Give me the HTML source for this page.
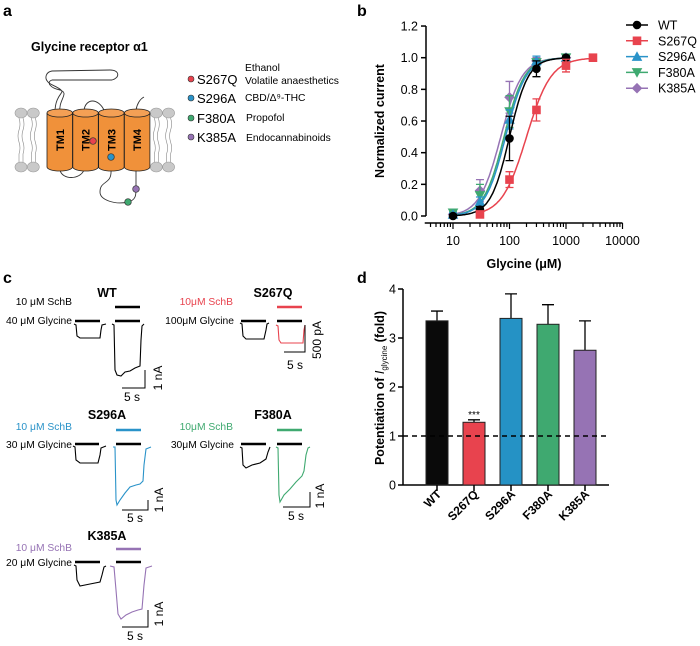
<!DOCTYPE html>
<html><head><meta charset="utf-8">
<style>
html,body{margin:0;padding:0;background:#fff;}
svg{display:block;font-family:"Liberation Sans",Arial,sans-serif;}
.b{font-weight:bold;}
</style></head>
<body>
<svg id="fig" width="700" height="646" viewBox="0 0 700 646" xmlns="http://www.w3.org/2000/svg">
<!-- Panel labels -->
<text x="3" y="16" font-size="16" class="b">a</text>
<text x="357" y="16" font-size="16" class="b">b</text>
<text x="3" y="283" font-size="16" class="b">c</text>
<text x="357" y="283" font-size="16" class="b">d</text>

<!-- Panel a -->
<g>
<text x="31" y="51" font-size="12.5" class="b">Glycine receptor α1</text>
<g id="lipids"></g>
<path d="M55,112 C55,100 60,95 62,92 C62,88 50,85 48,82 C44,78 46,72 52,71 L110,70 C120,70 120,78 112,80 L52,80 C46,82 50,88 60,90 C70,93 58,100 60,112" fill="none" stroke="#333" stroke-width="0.9"/>
<path d="M84,110 C86,98 98,98 104,110" fill="none" stroke="#333" stroke-width="0.9"/>
<path d="M136,110 C137,104 140,99 144,97" fill="none" stroke="#333" stroke-width="0.9"/>
<path d="M60,170 C62,180 80,180 84,170" fill="none" stroke="#333" stroke-width="0.9"/>
<path d="M111,170 C112,185 100,180 100,192 C100,200 115,205 128,202 C136,200 136,195 136,189 L136,170" fill="none" stroke="#333" stroke-width="0.9"/>
<g id="cyl"></g>
<circle cx="93" cy="141" r="3.3" fill="#e8434e" stroke="#333" stroke-width="0.7"/>
<circle cx="111" cy="157" r="3.3" fill="#2a93c9" stroke="#333" stroke-width="0.7"/>
<circle cx="128" cy="202" r="3.3" fill="#3fa970" stroke="#333" stroke-width="0.7"/>
<circle cx="136" cy="189" r="3.3" fill="#9673b4" stroke="#333" stroke-width="0.7"/>
<g>
<circle cx="191" cy="79" r="3" fill="#e8434e" stroke="#333" stroke-width="0.6"/>
<circle cx="191" cy="98" r="3" fill="#2a93c9" stroke="#333" stroke-width="0.6"/>
<circle cx="191" cy="118" r="3" fill="#3fa970" stroke="#333" stroke-width="0.6"/>
<circle cx="191" cy="137" r="3" fill="#9673b4" stroke="#333" stroke-width="0.6"/>
<text x="197" y="84" font-size="13">S267Q</text>
<text x="197" y="103" font-size="13">S296A</text>
<text x="197" y="123" font-size="13">F380A</text>
<text x="197" y="142" font-size="13">K385A</text>
<text x="245" y="71" font-size="10.3">Ethanol</text>
<text x="245" y="84" font-size="10.3">Volatile anaesthetics</text>
<text x="245" y="101" font-size="10.3">CBD/Δ⁹-THC</text>
<text x="246" y="121" font-size="10.3">Propofol</text>
<text x="246" y="141" font-size="10.3">Endocannabinoids</text>
</g>
</g>

<!-- Panel b -->
<g id="panelB"></g>
<!-- Panel d -->
<g id="panelD"></g>

<!-- Panel c -->
<g id="panelC" font-size="10.3">
<text x="107" y="297" font-size="12.5" class="b" text-anchor="middle">WT</text>
<text x="273" y="297" font-size="12.5" class="b" text-anchor="middle">S267Q</text>
<text x="107" y="419" font-size="12.5" class="b" text-anchor="middle">S296A</text>
<text x="273" y="419" font-size="12.5" class="b" text-anchor="middle">F380A</text>
<text x="107" y="540" font-size="12.5" class="b" text-anchor="middle">K385A</text>

<text x="72" y="305" text-anchor="end">10 μM SchB</text>
<text x="72" y="324" text-anchor="end">40 μM Glycine</text>
<text x="233" y="305" text-anchor="end" fill="#e8434e">10μM SchB</text>
<text x="234" y="324" text-anchor="end">100μM Glycine</text>
<text x="72" y="430" text-anchor="end" fill="#2a93c9">10 μM SchB</text>
<text x="72" y="448" text-anchor="end">30 μM Glycine</text>
<text x="233" y="430" text-anchor="end" fill="#3fa970">10μM SchB</text>
<text x="234" y="448" text-anchor="end">30μM Glycine</text>
<text x="72" y="551" text-anchor="end" fill="#9673b4">10 μM SchB</text>
<text x="72" y="566" text-anchor="end">20 μM Glycine</text>

<g stroke-width="2.6">
<line x1="115" y1="307" x2="140" y2="307" stroke="#000"/>
<line x1="75" y1="321" x2="100" y2="321" stroke="#000"/>
<line x1="115" y1="321" x2="140" y2="321" stroke="#000"/>
<line x1="277" y1="307" x2="302" y2="307" stroke="#e8434e"/>
<line x1="241" y1="321" x2="266" y2="321" stroke="#000"/>
<line x1="277" y1="321" x2="302" y2="321" stroke="#000"/>
<line x1="116" y1="430" x2="141" y2="430" stroke="#2a93c9"/>
<line x1="75" y1="444" x2="99" y2="444" stroke="#000"/>
<line x1="116" y1="444" x2="141" y2="444" stroke="#000"/>
<line x1="277" y1="430" x2="302" y2="430" stroke="#3fa970"/>
<line x1="241" y1="444" x2="266" y2="444" stroke="#000"/>
<line x1="277" y1="444" x2="302" y2="444" stroke="#000"/>
<line x1="116" y1="549" x2="141" y2="549" stroke="#9673b4"/>
<line x1="75" y1="562" x2="100" y2="562" stroke="#000"/>
<line x1="116" y1="562" x2="141" y2="562" stroke="#000"/>
</g>
<g fill="none" stroke-width="1.1">
<path d="M74,324 L76,325 L77,336 L80,338 L100,338 L101,330 L102,325 L106,324" stroke="#000"/>
<path d="M112,324 L114,325 L115,370 L117,375 L121,376 L125,372 L130,371 L135,368 L140,366 L141,340 L142,326 L144,324" stroke="#000"/>
<path d="M240,323 L242,324 L243,336 L246,339 L264,339 L266,330 L267,324 L269,323" stroke="#000"/>
<path d="M276,325 L278,326 L279,340 L281,343 L303,343 L304,330 L305,325" stroke="#e8434e"/>
<path d="M73,446 L75,447 L76,460 L80,463 L98,463 L100,455 L101,448 L106,446" stroke="#000"/>
<path d="M113,447 L115,447 L116,500 L117,505 L120,500 L125,493 L130,487 L136,485 L140,484 L143,481 L144,465 L146,449 L151,447" stroke="#2a93c9"/>
<path d="M240,447 L242,448 L243,465 L246,468 L252,465 L260,463 L266,459 L268,452 L270,447" stroke="#000"/>
<path d="M276,447 L278,448 L279,495 L280,502 L284,495 L290,489 L296,482 L302,476 L304,471 L306,455 L308,448 L310,447" stroke="#3fa970"/>
<path d="M74,565 L76,566 L77,580 L80,586 L90,584 L100,582 L102,575 L104,567 L106,566" stroke="#000"/>
<path d="M110,566 L114,567 L116,590 L118,614 L121,619 L126,615 L132,612 L138,610 L142,609 L144,585 L146,568 L152,566" stroke="#9673b4"/>
</g>
<g fill="none" stroke="#000" stroke-width="1">
<path d="M145,370 L145,388 L122,388"/>
<path d="M305,325 L305,352 L284,352"/>
<path d="M148,500 L148,510 L122,510"/>
<path d="M310,492 L310,507 L283,507"/>
<path d="M148,610 L148,627 L122,627"/>
</g>
<text x="132" y="401" font-size="12" text-anchor="middle">5 s</text>
<text x="295" y="369" font-size="12" text-anchor="middle">5 s</text>
<text x="135" y="522" font-size="12" text-anchor="middle">5 s</text>
<text x="296" y="520" font-size="12" text-anchor="middle">5 s</text>
<text x="135" y="640" font-size="12" text-anchor="middle">5 s</text>
<text font-size="12" text-anchor="middle" transform="translate(162,378) rotate(-90)">1 nA</text>
<text font-size="12" text-anchor="middle" transform="translate(321,340) rotate(-90)">500 pA</text>
<text font-size="12" text-anchor="middle" transform="translate(163,500) rotate(-90)">1 nA</text>
<text font-size="12" text-anchor="middle" transform="translate(324,496) rotate(-90)">1 nA</text>
<text font-size="12" text-anchor="middle" transform="translate(163,614) rotate(-90)">1 nA</text>
</g>
</svg>
<script>
const NS="http://www.w3.org/2000/svg";
function mk(tag,attrs,parent){const e=document.createElementNS(NS,tag);for(const k in attrs)e.setAttribute(k,attrs[k]);parent.appendChild(e);return e;}

// ---- Panel b data ----
const bSeriesNames=["WT","S267Q","S296A","F380A","K385A"];
const bColors=["#000000","#e8434e","#2a93c9","#3fa970","#9673b4"];
const concWT=[10,30,100,300,1000];
const valWT=[0.0,0.04,0.49,0.93,1.0];
const errWT=[0.01,0.02,0.14,0.05,0.01];
const concS267Q=[30,100,300,1000,3000];
const valS267Q=[0.01,0.23,0.67,0.95,1.0];
const errS267Q=[0.01,0.05,0.07,0.04,0.01];
const concS296A=[10,30,100,300,1000];
const valS296A=[0.01,0.09,0.61,0.98,1.0];
const errS296A=[0.01,0.03,0.06,0.03,0.01];
const concF380A=[10,30,100,300,1000];
const valF380A=[0.02,0.13,0.66,0.97,1.0];
const errF380A=[0.01,0.07,0.1,0.02,0.01];
const concK385A=[10,30,100,300,1000];
const valK385A=[0.01,0.16,0.75,0.98,1.0];
const errK385A=[0.01,0.07,0.1,0.02,0.01];
const ec50=[100,200,85,80,70];
const hill=[2.6,2.0,2.4,2.4,2.3];
const bYTicks=[0,0.2,0.4,0.6,0.8,1.0,1.2];
const bXTicks=[10,100,1000,10000];

// ---- Panel d data ----
const dCats=["WT","S267Q","S296A","F380A","K385A"];
const dVals=[3.35,1.28,3.4,3.28,2.75];
const dErrs=[0.2,0.05,0.5,0.4,0.6];
const dColors=["#0a0a0a","#e8434e","#2592c5","#3fa970","#9673b4"];
const dYTicks=[0,1,2,3,4];

// ---- membrane ----
(function(){
 const g=document.getElementById('lipids');
 const xs=[];for(let x=21;x<=180;x+=12.3)xs.push(x);
 xs.forEach(x=>{
  if(x>42&&x<155)return;
  [113,167].forEach(y=>{mk('ellipse',{cx:x,cy:y,rx:6,ry:5,fill:'#c9c9c9',stroke:'#9a9a9a','stroke-width':0.6},g);});
  [-2,2].forEach(d=>{mk('path',{d:`M${x+d},118 q2,6 0,12 q-2,6 0,12 q2,6 0,12 l0,8`,fill:'none',stroke:'#888','stroke-width':0.6},g);});
 });
 const c=document.getElementById('cyl');
 const names=["TM1","TM2","TM3","TM4"];
 names.forEach((n,i)=>{
  const x=47+i*25.8,w=25.5;
  mk('path',{d:`M${x},113 L${x},167 A${w/2},4 0 0 0 ${x+w},167 L${x+w},113`,fill:'#f0913a',stroke:'#222','stroke-width':0.8},c);
  mk('ellipse',{cx:x+w/2,cy:113,rx:w/2,ry:4,fill:'#f4a055',stroke:'#222','stroke-width':0.8},c);
  const t=mk('text',{transform:`translate(${x+w/2+4},140) rotate(-90)`,'font-size':11,'font-weight':'bold','text-anchor':'middle'},c);
  t.textContent=n;
 });
})();

// ---- Panel b ----
(function(){
 const g=document.getElementById('panelB');
 const X=v=>453+56.5*(Math.log10(v)-1);
 const Y=v=>216-158.3*v;
 mk('line',{x1:426,y1:Y(1.2),x2:426,y2:216,stroke:'#000','stroke-width':1.5},g);
 bYTicks.forEach(t=>{
  mk('line',{x1:421,y1:Y(t),x2:426,y2:Y(t),stroke:'#000','stroke-width':1.5},g);
  const tx=mk('text',{x:418,y:Y(t)+4.5,'font-size':12.5,'text-anchor':'end'},g);tx.textContent=t.toFixed(1);
 });
 const ax=mk('line',{x1:X(3.16),y1:223,x2:X(10000),y2:223,stroke:'#000','stroke-width':1.5},g);
 
 for(let d=0;d<4;d++)for(let m=1;m<10;m++){const v=m*Math.pow(10,d);if(v<4)continue;
  mk('line',{x1:X(v),y1:223,x2:X(v),y2:m==1?229:227,stroke:'#000','stroke-width':1.2},g);}
 mk('line',{x1:X(10000),y1:223,x2:X(10000),y2:229,stroke:'#000','stroke-width':1.2},g);
 bXTicks.forEach(t=>{const tx=mk('text',{x:X(t),y:245,'font-size':12.5,'text-anchor':'middle'},g);tx.textContent=String(t);});
 const xt=mk('text',{x:524,y:268,'font-size':12.5,'font-weight':'bold','text-anchor':'middle'},g);xt.textContent='Glycine (μM)';
 
 const yt=mk('text',{transform:'translate(384,121) rotate(-90)','font-size':12.5,'font-weight':'bold','text-anchor':'middle'},g);yt.textContent='Normalized current';
 
 const concs=[concWT,concS267Q,concS296A,concF380A,concK385A];
 const vals=[valWT,valS267Q,valS296A,valF380A,valK385A];
 const errs=[errWT,errS267Q,errS296A,errF380A,errK385A];
 const order=[4,3,2,0,1];
 function marker(i,x,y,par,s){
  const c=bColors[i];
  if(i==0)return mk('circle',{cx:x,cy:y,r:s,fill:c},par);
  if(i==1)return mk('rect',{x:x-s,y:y-s,width:2*s,height:2*s,fill:c},par);
  if(i==2)return mk('path',{d:`M${x},${y-s-1} L${x+s+1},${y+s} L${x-s-1},${y+s}Z`,fill:c},par);
  if(i==3)return mk('path',{d:`M${x},${y+s+1} L${x+s+1},${y-s} L${x-s-1},${y-s}Z`,fill:c},par);
  return mk('path',{d:`M${x},${y-s-1} L${x+s+1},${y} L${x},${y+s+1} L${x-s-1},${y}Z`,fill:c},par);
 }
 order.forEach(i=>{
  const sg=mk('g',{},g);
  
  
  let d='';const lo=Math.log10(concs[i][0]),hi=Math.log10(concs[i][concs[i].length-1]);
  for(let k=0;k<=100;k++){const lv=lo+(hi-lo)*k/100,v=Math.pow(10,lv);
   const f=1/(1+Math.pow(ec50[i]/v,hill[i]));d+=(k?'L':'M')+X(v).toFixed(1)+','+Y(f).toFixed(1);}
  mk('path',{d:d,fill:'none',stroke:bColors[i],'stroke-width':1.5},sg);
  concs[i].forEach((c,j)=>{
   const x=X(c),y=Y(vals[i][j]);
   mk('path',{d:`M${x},${Y(vals[i][j]-errs[i][j])} L${x},${Y(vals[i][j]+errs[i][j])} M${x-4},${Y(vals[i][j]-errs[i][j])} h8 M${x-4},${Y(vals[i][j]+errs[i][j])} h8`,stroke:bColors[i],'stroke-width':1.3,fill:'none'},sg);
   const m=marker(i,x,y,sg,4.3);
   
   
  });
 });
 const lg=mk('g',{},g);
 
 
 bSeriesNames.forEach((n,i)=>{
  const y=25+i*15.8;
  const e=mk('g',{},lg);
  
  
  mk('line',{x1:626,y1:y,x2:648,y2:y,stroke:bColors[i],'stroke-width':1.5},e);
  marker(i,637,y,e,4.3);
  const t=mk('text',{x:658,y:y+4.5,'font-size':12.5},e);t.textContent=n;
 });
})();

// ---- Panel d ----
(function(){
 const g=document.getElementById('panelD');
 const Y=v=>485-49*v;
 const X=i=>437+37*i;
 mk('line',{x1:403,y1:Y(4),x2:403,y2:485,stroke:'#000','stroke-width':1.5},g);
 mk('line',{x1:403,y1:485,x2:609,y2:485,stroke:'#000','stroke-width':1.5},g);
 dYTicks.forEach(t=>{
  mk('line',{x1:398,y1:Y(t),x2:403,y2:Y(t),stroke:'#000','stroke-width':1.5},g);
  const tx=mk('text',{x:396,y:Y(t)+4.5,'font-size':12.5,'text-anchor':'end'},g);tx.textContent=String(t);
 });
 const yt=mk('text',{transform:'translate(384,388) rotate(-90)','font-size':12.5,'font-weight':'bold','text-anchor':'middle'},g);
 yt.innerHTML='Potentiation of <tspan font-style="italic" font-weight="normal">I</tspan><tspan font-size="8" dy="3" font-weight="normal">glycine</tspan><tspan dy="-3"> (fold)</tspan>';
 
 dCats.forEach((c,i)=>{
  const x=X(i),top=Y(dVals[i]+dErrs[i]);
  mk('path',{d:`M${x},${Y(dVals[i])} V${top} M${x-6},${top} h12`,stroke:'#000','stroke-width':1.3,fill:'none'},g);
  const r=mk('rect',{x:x-11,y:Y(dVals[i]),width:22,height:485-Y(dVals[i]),fill:dColors[i],stroke:'#222','stroke-width':1},g);
  
  
  mk('line',{x1:x,y1:485,x2:x,y2:491,stroke:'#000','stroke-width':1.5},g);
  const t=mk('text',{transform:`translate(${x+5},${495}) rotate(-45)`,'font-size':12,'font-weight':'bold','text-anchor':'end'},g);t.textContent=c;
 });
 const dl=mk('line',{x1:403,y1:Y(1),x2:606,y2:Y(1),stroke:'#000','stroke-width':1.5,'stroke-dasharray':'5,4'},g);
 
 const st=mk('text',{x:X(1),y:Y(dVals[1]+dErrs[1])-2,'font-size':10,'text-anchor':'middle'},g);st.textContent='***';
})();
</script>
</body></html>
